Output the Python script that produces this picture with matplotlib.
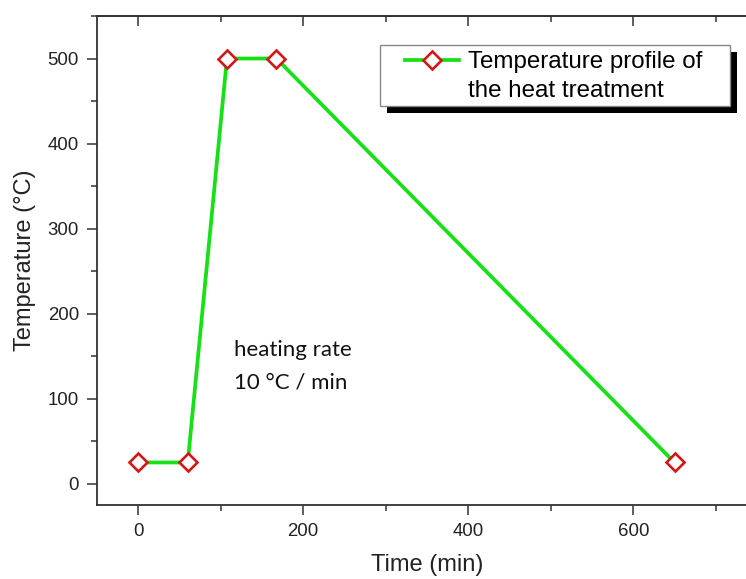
import matplotlib
matplotlib.use("Agg")
import matplotlib.pyplot as plt
from matplotlib.lines import Line2D
from matplotlib.patches import Rectangle
from matplotlib.ticker import MultipleLocator, NullFormatter

# Heat-treatment schedule: hold at room temperature, ramp at 10 °C/min,
# dwell at 500 °C, then cool back down.
time_min = [0, 60, 107.5, 167.5, 650]
temperature_c = [25, 25, 500, 500, 25]
series_label_lines = ["Temperature profile of", "the heat treatment"]
note_text = "heating rate\n10 °C / min"

plt.rcParams["font.family"] = ["Liberation Sans", "DejaVu Sans"]

W, H = 746, 579
fig = plt.figure(figsize=(W / 100, H / 100), dpi=100)
AX_L, AX_B, AX_W, AX_H = 97, 74, 660, 489
ax = fig.add_axes([AX_L / W, AX_B / H, AX_W / W, AX_H / H])


def px_to_axes(x, y_from_top):
    """Convert a pixel position (origin top-left) to axes fraction."""
    return (x - AX_L) / AX_W, (H - y_from_top - AX_B) / AX_H


line, = ax.plot(time_min, temperature_c, color="#18e018", lw=2.7,
                marker="D", ms=8.9, mfc="white", mec="#d01818", mew=1.9,
                zorder=3, clip_on=False)

ax.set_xlim(-50, 750)
ax.set_ylim(-25, 550)

ax.xaxis.set_major_locator(MultipleLocator(200))
ax.xaxis.set_minor_locator(MultipleLocator(100))
ax.yaxis.set_major_locator(MultipleLocator(100))
ax.yaxis.set_minor_locator(MultipleLocator(50))

for side in ax.spines.values():
    side.set_color("#333333")
    side.set_linewidth(1.3)
ax.spines["right"].set_visible(False)

ax.tick_params(axis="both", which="major", direction="out", length=7,
               width=1.1, color="#333333", labelsize=13.4, pad=6,
               labelcolor="#222222")
ax.tick_params(axis="both", which="minor", direction="out", length=4,
               width=1.1, color="#333333")

# inward ticks along the top edge, without labels
top = ax.secondary_xaxis("top")
top.xaxis.set_major_locator(MultipleLocator(200))
top.xaxis.set_minor_locator(MultipleLocator(100))
top.xaxis.set_major_formatter(NullFormatter())
top.tick_params(which="major", direction="in", length=7, width=1.1,
                color="#333333")
top.tick_params(which="minor", direction="in", length=4, width=1.1,
                color="#333333")
top.spines["top"].set_color("#333333")
top.spines["top"].set_linewidth(1.3)

ax.set_xlabel("Time (min)", fontsize=17, color="#222222", labelpad=10)
ax.set_ylabel("Temperature (°C)", fontsize=17, color="#222222", labelpad=8)

ax.text(116, 169, note_text, fontsize=16, family=["Lato", "DejaVu Sans"],
        va="top", ha="left", linespacing=1.78, color="#111111")

# legend frame with a solid drop shadow
fx0, fy0 = px_to_axes(380, 106)
fx1, fy1 = px_to_axes(730, 45)
sx0, sy0 = px_to_axes(387, 113)
ax.add_patch(Rectangle((sx0, sy0), fx1 - fx0, fy1 - fy0,
                       transform=ax.transAxes, facecolor="black",
                       edgecolor="none", zorder=5, clip_on=False))
ax.add_patch(Rectangle((fx0, fy0), fx1 - fx0, fy1 - fy0,
                       transform=ax.transAxes, facecolor="white",
                       edgecolor="#888888", lw=1.0, zorder=6, clip_on=False))

blank = Line2D([], [], linestyle="none")
ax_x, ax_y = px_to_axes(405, 51)
leg = ax.legend([line, blank], series_label_lines, loc="upper left",
                bbox_to_anchor=(ax_x, ax_y), bbox_transform=ax.transAxes,
                fontsize=17.4, frameon=False, handlelength=2.25,
                handletextpad=0.35, borderpad=0, borderaxespad=0,
                labelspacing=0.3)
leg.set_zorder(7)

fig.savefig("out.png", dpi=100)
